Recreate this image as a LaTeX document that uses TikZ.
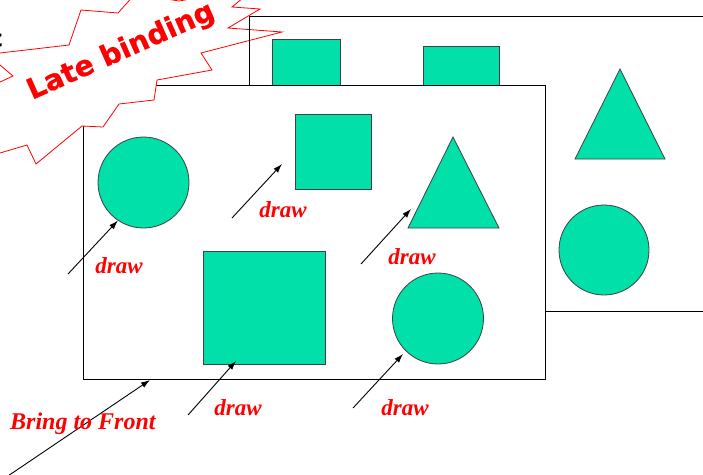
\documentclass[tikz,border=0pt]{standalone}
\usepackage{fontspec}
\setmainfont{Liberation Serif}
\newfontfamily\lbfont[FakeBold=0.6]{DejaVu Sans Bold}
\usetikzlibrary{arrows.meta}
\definecolor{shapegreen}{RGB}{0,224,168}
\begin{document}
\begin{tikzpicture}[x=1pt,y=-1pt,
  win/.style={draw=black, line width=1pt, fill=white, inner sep=0pt, anchor=north west},
  shp/.style={draw=black!75, line width=0.8pt, fill=shapegreen, inner sep=0pt},
  sqbox/.style={shp, rectangle, anchor=north west},
  circ/.style={shp, circle},
  arr/.style={-{Latex[length=9pt,width=6pt]}, line width=0.9pt},
  lbl/.style={text=red, font=\fontsize{23}{27}\selectfont\bfseries\itshape, inner sep=0pt, anchor=base},
  burst/.style={draw=red, line width=0.8pt, fill=white, line join=miter}]
\useasboundingbox (0,0) rectangle (703,474);
\clip (0,0) rectangle (703,474);

% partial text at left edge
\node[anchor=base east, inner sep=0pt, font=\sffamily\bfseries\fontsize{30}{32}\selectfont] (frag) at (3,47) {c};

% back window
\node[win, minimum width=470pt, minimum height=295pt] (back) at (249,16) {};
\node[sqbox, minimum width=68pt, minimum height=60pt] (bs1) at (272,39) {};
\node[sqbox, minimum width=76pt, minimum height=50pt] (bs2) at (423,46) {};
\coordinate (bta) at (620,69);
\coordinate (btb) at (665,159);
\coordinate (btc) at (575,159);
\draw[shp] (bta) -- (btb) -- (btc) -- cycle;
\node[circ, minimum size=90pt] (bc) at (604,250) {};

% front window
\node[win, minimum width=462pt, minimum height=294pt] (front) at (83,85) {};
\node[circ, minimum size=91pt] (c1) at (143.5,182.5) {};
\node[sqbox, minimum width=76pt, minimum height=75pt] (sq1) at (295,114) {};
\coordinate (fta) at (453,137);
\coordinate (ftb) at (499,228);
\coordinate (ftc) at (408,228);
\draw[shp] (fta) -- (ftb) -- (ftc) -- cycle;
\node[sqbox, minimum width=122pt, minimum height=113pt] (sq2) at (203,251) {};
\node[circ, minimum size=91pt] (c2) at (438,318.5) {};

% starburst
\draw[burst] (0,53) -- (69,45) -- (81,10) -- (118,13) -- (135,-6) -- (179,1) -- (255,-12)
  -- (232,7) -- (260,9) -- (228,28) -- (282,32) -- (201,53) -- (212,70) -- (157,80)
  -- (154,100) -- (119,104) -- (103,127) -- (82,126) -- (36,164) -- (27,145) -- (0,153)
  -- (-10,156) -- (-10,86) -- (0,82) -- (13,76) -- (0,65) -- (-10,58) -- (-10,54) -- cycle;
\node[rotate=24, anchor=base west, inner sep=0pt, text=red,
      font=\lbfont\fontsize{28.5}{31}\selectfont] (late) at (32,100) {Late binding};

% visible left edge of back window
\draw[line width=1pt] (back.north west) -- (back.north west |- front.north);

% arrows
\coordinate (t1) at (68,274);
\draw[arr] (t1) -- (c1.236);
\coordinate (t2) at (232,218);
\coordinate (h2) at (282,164);
\draw[arr] (t2) -- (h2);
\coordinate (t3) at (361,264);
\coordinate (h3) at (411,209);
\draw[arr] (t3) -- (h3);
\coordinate (t4) at (188,415);
\coordinate (h4) at (236,361);
\draw[arr] (t4) -- (h4);
\coordinate (t5) at (353,408);
\coordinate (h5) at (403,354);
\draw[arr] (t5) -- (h5);
\coordinate (t6) at (2,480);
\coordinate (h6) at (150,380);
\draw[arr] (t6) -- (h6);

% labels
\node[lbl] (d1) at (119,273) {draw};
\node[lbl] (d2) at (283,217) {draw};
\node[lbl] (d3) at (412,264) {draw};
\node[lbl] (d4) at (238,415) {draw};
\node[lbl] (d5) at (405,415) {draw};
\node[lbl, anchor=base west, font=\fontsize{24}{28}\selectfont\bfseries\itshape] (bf) at (10,429) {Bring to Front};
\end{tikzpicture}
\end{document}
